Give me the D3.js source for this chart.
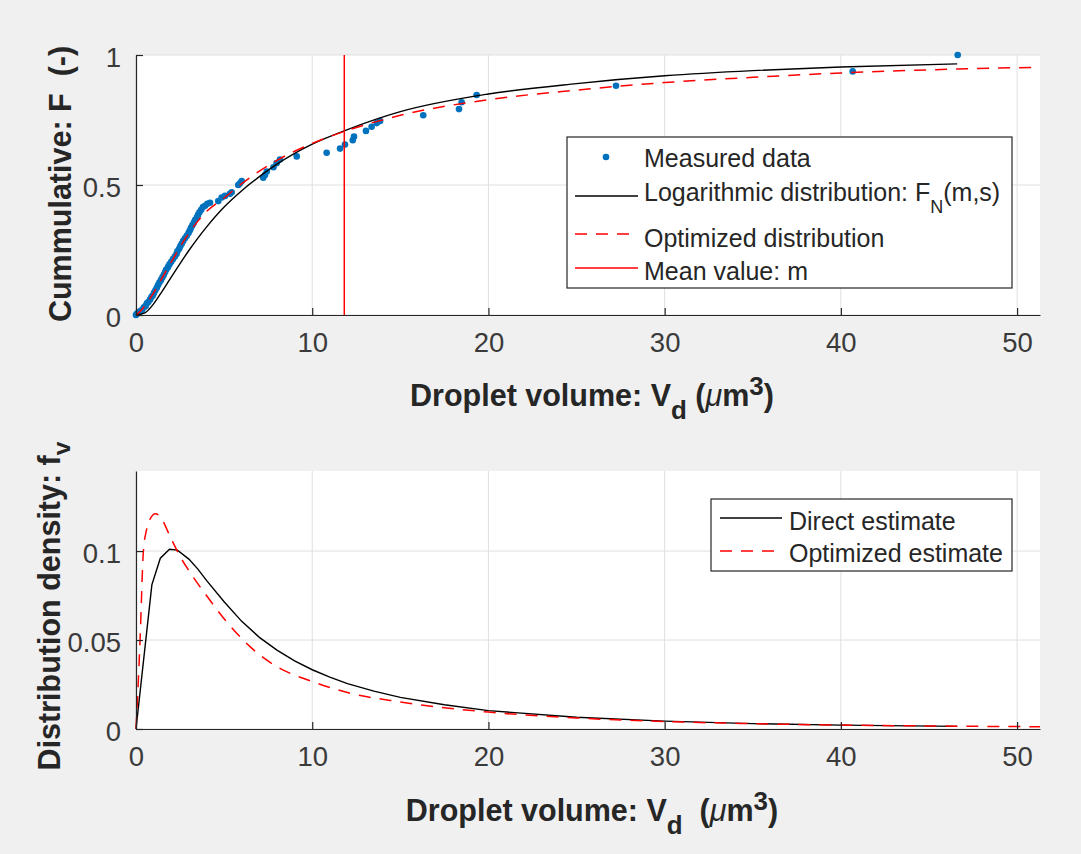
<!DOCTYPE html>
<html>
<head>
<meta charset="utf-8">
<script src="https://cdn.jsdelivr.net/npm/d3@7"></script>
<style>
  html, body { margin: 0; padding: 0; background: #f0f0f0; }
  svg { display: block; font-family: "Liberation Sans", Arial, Helvetica, sans-serif; }
  text { white-space: pre; }
</style>
</head>
<body>
<svg id="fig" width="1081" height="854"></svg>
<script>
// ---- tick values ----
const xTicks = [0, 10, 20, 30, 40, 50];
const cdfYTicks = [0, 0.5, 1];
const pdfYTicks = [0, 0.05, 0.1];

// ---- measured cumulative data (droplet volume in µm³, cumulative fraction) ----
const measuredV = [0, 0.05, 0.15, 0.25, 0.35, 0.45, 0.55, 0.62, 0.7, 0.8, 0.88, 0.95, 1.02, 1.1, 1.18,
  1.25, 1.33, 1.42, 1.5, 1.58, 1.65, 1.72, 1.82, 1.9, 2.0, 2.1, 2.2, 2.3, 2.35, 2.45, 2.52, 2.6, 2.68,
  2.78, 2.88, 2.98, 3.05, 3.12, 3.2, 3.28, 3.35, 3.45, 3.52, 3.6, 3.7, 3.8, 3.92, 4.05, 4.2,
  4.67, 4.86, 5.05, 5.33, 5.43, 5.8, 5.9, 6.0, 7.22, 7.32, 7.42, 7.8, 7.98, 8.17, 9.12,
  10.82, 11.58, 11.86, 12.3, 12.37, 13.05, 13.37, 13.66, 13.85, 16.3, 18.33, 18.48, 19.33,
  27.24, 40.67, 46.63];
const measuredF = [0, 0.005, 0.01, 0.015, 0.02, 0.03, 0.035, 0.045, 0.05, 0.06, 0.07, 0.075, 0.085, 0.095, 0.105,
  0.115, 0.125, 0.135, 0.145, 0.155, 0.165, 0.175, 0.185, 0.195, 0.205, 0.215, 0.225, 0.235, 0.245, 0.255, 0.265, 0.275, 0.285,
  0.295, 0.305, 0.315, 0.325, 0.335, 0.345, 0.355, 0.365, 0.375, 0.385, 0.395, 0.405, 0.415, 0.42, 0.428, 0.432,
  0.438, 0.452, 0.458, 0.466, 0.472, 0.5, 0.507, 0.515, 0.528, 0.538, 0.552, 0.568, 0.584, 0.598, 0.61,
  0.624, 0.64, 0.656, 0.672, 0.686, 0.708, 0.724, 0.738, 0.746, 0.768, 0.792, 0.818, 0.846,
  0.882, 0.937, 1.0];

// ---- logarithmic (log-normal) cumulative distribution F_N(m,s) ----
const lognCdfV = [0, 0.5, 1, 1.5, 2, 2.5, 3, 3.5, 4, 5, 6, 7, 8, 10, 12, 15, 20, 25, 30, 35, 40, 46.6];
const lognCdfF = [0, 0.008, 0.043, 0.093, 0.146, 0.198, 0.248, 0.295, 0.338, 0.415, 0.478, 0.532, 0.58,
  0.657, 0.713, 0.782, 0.85, 0.89, 0.92, 0.94, 0.954, 0.966];

// ---- optimized cumulative distribution ----
const optCdfV = [0, 0.3, 0.6, 1, 1.5, 2, 2.5, 3, 3.5, 4, 5, 6, 7, 8, 9, 10, 12, 15, 20, 25, 30, 35, 40, 45, 51.3];
const optCdfF = [0, 0.018, 0.045, 0.085, 0.145, 0.203, 0.262, 0.315, 0.36, 0.398, 0.45, 0.505, 0.553, 0.595,
  0.63, 0.66, 0.71, 0.768, 0.828, 0.865, 0.894, 0.914, 0.931, 0.943, 0.953];

// ---- mean droplet volume m ----
const meanV = 11.82;

// ---- distribution density: direct estimate ----
const directV = [0, 0.9, 1.38, 1.9, 2.35, 3, 3.5, 4, 5, 6, 7, 8, 9, 10, 11, 12, 13.5, 15, 17.5, 20, 25, 30, 35, 40, 46.6];
const directF = [0, 0.081, 0.096, 0.101, 0.1005, 0.0955, 0.09, 0.0835, 0.0715, 0.0605, 0.0515, 0.0443, 0.0383,
  0.0333, 0.0292, 0.0255, 0.0213, 0.0178, 0.0136, 0.0103, 0.0066, 0.0044, 0.003, 0.0022, 0.0015];

// ---- distribution density: optimized estimate ----
const optPdfV = [0, 0.1, 0.23, 0.42, 0.6, 0.8, 1.1, 1.4, 1.9, 2.5, 3, 4, 5, 6.5, 8, 10, 12, 15, 20, 25, 30, 35, 40, 45, 51.3];
const optPdfF = [0, 0.02, 0.05, 0.1, 0.112, 0.118, 0.121, 0.119, 0.109, 0.097, 0.089, 0.075, 0.062, 0.046, 0.035,
  0.0267, 0.0205, 0.0152, 0.0095, 0.0062, 0.0042, 0.003, 0.0022, 0.0017, 0.0013];

// ---- drawing ----
const svg = d3.select('#fig');
const AX = '#262626';
const TICK_COL = '#3a3a3a';
const GRID = '#dfdfdf';
const BLUE = '#0072bd';
const RED = '#ff0000';
const TICK_FS = 27.5, LEG_FS = 25, LAB_FS = 30.5;

const x = d3.scaleLinear().domain([0, 51.3]).range([136, 1040]);
const yCdf = d3.scaleLinear().domain([0, 1]).range([315, 55]);
const yPdf = d3.scaleLinear().domain([0, 0.145]).range([729, 471]);

function zip(a, b) { return a.map((v, i) => [v, b[i]]); }

// Writes a label made of plain / subscript / superscript / italic pieces.
function richText(g, parts, size, subShift, supShift, scale) {
  let shift = 0;
  parts.forEach(p => {
    const ts = g.append('tspan').text(p.t);
    const target = p.sub ? subShift : (p.sup ? supShift : 0);
    if (target !== shift) ts.attr('dy', target - shift);
    shift = target;
    if (p.sub || p.sup) ts.attr('font-size', size * scale);
    if (p.it) ts.attr('font-style', 'italic').attr('font-weight', 'normal');
  });
  return g;
}

function panel(y, yTicks) {
  const g = svg.append('g');
  const [y0, y1] = y.range();
  g.append('rect').attr('x', x.range()[0]).attr('y', y1)
    .attr('width', x.range()[1] - x.range()[0]).attr('height', y0 - y1).attr('fill', '#fff');
  // grid
  g.append('g').selectAll('line').data(xTicks).join('line')
    .attr('x1', d => x(d)).attr('x2', d => x(d)).attr('y1', y0).attr('y2', y1)
    .attr('stroke', GRID).attr('stroke-width', 1);
  g.append('g').selectAll('line').data(yTicks).join('line')
    .attr('x1', x.range()[0]).attr('x2', x.range()[1]).attr('y1', d => y(d)).attr('y2', d => y(d))
    .attr('stroke', GRID).attr('stroke-width', 1);
  return g;
}

function axes(g, y, yTicks, yFmt) {
  const [y0] = y.range();
  const xa = g.append('g').attr('transform', `translate(0,${y0})`)
    .call(d3.axisBottom(x).tickValues(xTicks).tickFormat(d3.format('d'))
      .tickSizeInner(-7).tickSizeOuter(0).tickPadding(17));
  const ya = g.append('g').attr('transform', `translate(${x.range()[0]},0)`)
    .call(d3.axisLeft(y).tickValues(yTicks).tickFormat(yFmt)
      .tickSizeInner(-7).tickSizeOuter(0).tickPadding(15));
  [xa, ya].forEach(a => {
    a.select('.domain').attr('stroke', AX).attr('stroke-width', 1.2);
    a.selectAll('.tick line').attr('stroke', AX).attr('stroke-width', 1.2);
    a.selectAll('.tick text').attr('fill', TICK_COL).attr('font-size', TICK_FS)
      .attr('font-family', '"Liberation Sans", Arial, sans-serif');
  });
  ya.selectAll('.tick text').attr('dy', '0.42em');
}

// ===== upper panel: cumulative distribution =====
const cdfPanel = panel(yCdf, cdfYTicks);
const lineCdf = d3.line().x(d => x(d[0])).y(d => yCdf(d[1])).curve(d3.curveMonotoneX);

cdfPanel.append('g').selectAll('circle').data(zip(measuredV, measuredF)).join('circle')
  .attr('cx', d => x(d[0])).attr('cy', d => yCdf(d[1])).attr('r', 3.3).attr('fill', BLUE);
cdfPanel.append('path').datum(zip(lognCdfV, lognCdfF)).attr('d', lineCdf)
  .attr('fill', 'none').attr('stroke', '#000').attr('stroke-width', 1.4);
cdfPanel.append('path').datum(zip(optCdfV, optCdfF)).attr('d', lineCdf)
  .attr('fill', 'none').attr('stroke', RED).attr('stroke-width', 1.5).attr('stroke-dasharray', '12,9');
cdfPanel.append('line').attr('x1', x(meanV)).attr('x2', x(meanV)).attr('y1', yCdf(0)).attr('y2', yCdf(1))
  .attr('stroke', RED).attr('stroke-width', 1.5);
axes(cdfPanel, yCdf, cdfYTicks, d3.format('~g'));

// legend (upper)
const lt = svg.append('g');
lt.append('rect').attr('x', 567).attr('y', 137).attr('width', 445).attr('height', 151)
  .attr('fill', '#fff').attr('stroke', AX).attr('stroke-width', 1.2);
lt.append('circle').attr('cx', 606).attr('cy', 157).attr('r', 3.3).attr('fill', BLUE);
lt.append('line').attr('x1', 575).attr('x2', 638).attr('y1', 196).attr('y2', 196)
  .attr('stroke', '#000').attr('stroke-width', 1.4);
lt.append('line').attr('x1', 575).attr('x2', 638).attr('y1', 234).attr('y2', 234)
  .attr('stroke', RED).attr('stroke-width', 1.5).attr('stroke-dasharray', '12,9');
lt.append('line').attr('x1', 575).attr('x2', 638).attr('y1', 268).attr('y2', 268)
  .attr('stroke', RED).attr('stroke-width', 1.5);
const legTop = [
  { y: 167, parts: [{ t: 'Measured data' }] },
  { y: 201, parts: [{ t: 'Logarithmic distribution: F' }, { t: 'N', sub: true }, { t: '(m,s)' }] },
  { y: 247, parts: [{ t: 'Optimized distribution' }] },
  { y: 280, parts: [{ t: 'Mean value: m' }] }
];
legTop.forEach(e => {
  const t = lt.append('text').attr('x', 644).attr('y', e.y).attr('font-size', LEG_FS).attr('fill', AX);
  richText(t, e.parts, LEG_FS, 12, -10, 0.72);
});

// axis labels (upper)
richText(svg.append('text').attr('x', 592).attr('y', 406).attr('text-anchor', 'middle')
  .attr('font-size', LAB_FS).attr('font-weight', 'bold').attr('fill', AX),
  [{ t: 'Droplet volume: V' }, { t: 'd', sub: true }, { t: ' (' }, { t: 'μ', it: true }, { t: 'm' }, { t: '3', sup: true }, { t: ')' }],
  LAB_FS, 13, -11, 0.85);
richText(svg.append('text').attr('transform', 'translate(71,184) rotate(-90)').attr('text-anchor', 'middle')
  .attr('font-size', LAB_FS).attr('font-weight', 'bold').attr('fill', AX),
  [{ t: 'Cummulative: F  (-)' }], LAB_FS, 0, 0, 1);

// ===== lower panel: distribution density =====
const pdfPanel = panel(yPdf, pdfYTicks);
pdfPanel.append('path').datum(zip(directV, directF))
  .attr('d', d3.line().x(d => x(d[0])).y(d => yPdf(d[1])))
  .attr('fill', 'none').attr('stroke', '#000').attr('stroke-width', 1.4);
pdfPanel.append('path').datum(zip(optPdfV, optPdfF))
  .attr('d', d3.line().x(d => x(d[0])).y(d => yPdf(d[1])).curve(d3.curveMonotoneX))
  .attr('fill', 'none').attr('stroke', RED).attr('stroke-width', 1.5).attr('stroke-dasharray', '12,9');
axes(pdfPanel, yPdf, pdfYTicks, d3.format('~g'));

// legend (lower)
const lb = svg.append('g');
lb.append('rect').attr('x', 711).attr('y', 499).attr('width', 301).attr('height', 72)
  .attr('fill', '#fff').attr('stroke', AX).attr('stroke-width', 1.2);
lb.append('line').attr('x1', 720).attr('x2', 782).attr('y1', 518).attr('y2', 518)
  .attr('stroke', '#000').attr('stroke-width', 1.4);
lb.append('line').attr('x1', 720).attr('x2', 782).attr('y1', 551).attr('y2', 551)
  .attr('stroke', RED).attr('stroke-width', 1.5).attr('stroke-dasharray', '12,9');
lb.append('text').attr('x', 789).attr('y', 530).attr('font-size', LEG_FS).attr('fill', AX).text('Direct estimate');
lb.append('text').attr('x', 789).attr('y', 562).attr('font-size', LEG_FS).attr('fill', AX).text('Optimized estimate');

// axis labels (lower)
richText(svg.append('text').attr('x', 592).attr('y', 821).attr('text-anchor', 'middle')
  .attr('font-size', LAB_FS).attr('font-weight', 'bold').attr('fill', AX),
  [{ t: 'Droplet volume: V' }, { t: 'd', sub: true }, { t: '  (' }, { t: 'μ', it: true }, { t: 'm' }, { t: '3', sup: true }, { t: ')' }],
  LAB_FS, 13, -11, 0.85);
richText(svg.append('text').attr('transform', 'translate(60,606) rotate(-90)').attr('text-anchor', 'middle')
  .attr('font-size', LAB_FS).attr('font-weight', 'bold').attr('fill', AX),
  [{ t: 'Distribution density: f' }, { t: 'v', sub: true }], LAB_FS, 10, 0, 0.8);
</script>
</body>
</html>
